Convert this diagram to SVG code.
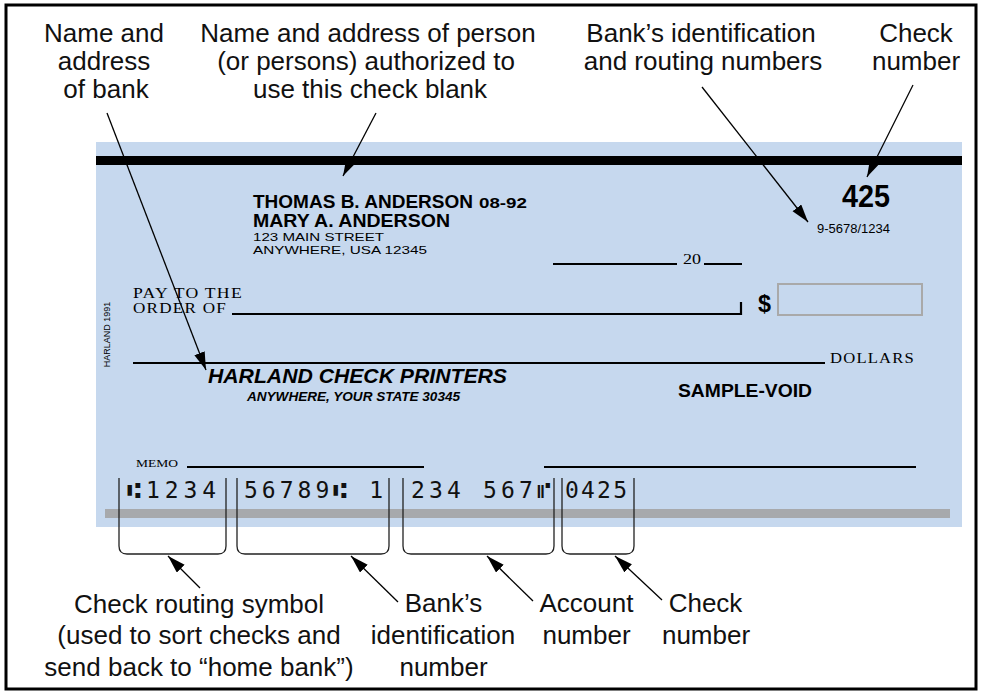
<svg xmlns="http://www.w3.org/2000/svg" width="982" height="694" viewBox="0 0 982 694">
<defs>
<marker id="ah" markerUnits="userSpaceOnUse" markerWidth="20" markerHeight="12" refX="18" refY="5.5" orient="auto">
<path d="M0,0 L18,5.5 L0,11 Z" fill="#000"/>
</marker>
</defs>
<style>
.lbl{font-family:"Liberation Sans",Arial,sans-serif;font-size:26px;fill:#111;text-anchor:middle}
.sans{font-family:"Liberation Sans",Arial,sans-serif;fill:#000}
.serif{font-family:"Liberation Serif","Times New Roman",serif;fill:#000}
.micr{font-family:"DejaVu Sans Mono","Liberation Mono",monospace;font-size:23px;fill:#111}
.rule{stroke:#000;stroke-width:2.2;fill:none}
.conn{stroke:#000;stroke-width:1.3;fill:none}
.brk{stroke:#222;stroke-width:1.3;fill:none}
</style>
<rect x="0" y="0" width="982" height="694" fill="#fff"/>
<rect x="6" y="5" width="970" height="684" fill="none" stroke="#000" stroke-width="3"/>

<g id="check">
<rect x="96" y="142" width="866" height="385" fill="#c6d8ee"/>
<rect x="96" y="156" width="866" height="9" fill="#000"/>
<rect x="105" y="509" width="845" height="9" fill="#a7a9ac"/>
<text class="sans" x="109.5" y="334.5" font-size="9" text-anchor="middle" transform="rotate(-90 109.5 334.5)">HARLAND 1991</text>
</g>

<g id="owner">
<text class="sans" x="253" y="208" font-size="18.5" font-weight="bold" textLength="220" lengthAdjust="spacingAndGlyphs">THOMAS B. ANDERSON</text>
<text class="sans" x="479" y="208" font-size="14" font-weight="bold" textLength="48" lengthAdjust="spacingAndGlyphs">08-92</text>
<text class="sans" x="253" y="227" font-size="18.5" font-weight="bold" textLength="197" lengthAdjust="spacingAndGlyphs">MARY A. ANDERSON</text>
<text class="sans" x="253" y="241" font-size="11.5" textLength="131" lengthAdjust="spacingAndGlyphs">123 MAIN STREET</text>
<text class="sans" x="253" y="254" font-size="11.5" textLength="174" lengthAdjust="spacingAndGlyphs">ANYWHERE, USA 12345</text>
</g>

<g id="checknum">
<text class="sans" x="842" y="207" font-size="32" font-weight="bold" textLength="48" lengthAdjust="spacingAndGlyphs">425</text>
</g>
<g id="routing">
<text class="sans" x="817" y="233" font-size="12.5" textLength="73" lengthAdjust="spacingAndGlyphs">9-5678/1234</text>
</g>

<g id="date">
<line class="rule" x1="553" y1="264" x2="677" y2="264"/>
<text class="serif" x="683" y="264" font-size="14" textLength="18" lengthAdjust="spacingAndGlyphs">20</text>
<line class="rule" x1="704" y1="264" x2="742" y2="264"/>
</g>

<g id="payee">
<text class="serif" x="133" y="298" font-size="14" letter-spacing="1" textLength="110" lengthAdjust="spacingAndGlyphs">PAY TO THE</text>
<text class="serif" x="133" y="313" font-size="14" letter-spacing="1" textLength="94" lengthAdjust="spacingAndGlyphs">ORDER OF</text>
<path class="rule" d="M232,314 H741 V302"/>
<text class="sans" x="758" y="312" font-size="24" font-weight="bold" textLength="13" lengthAdjust="spacingAndGlyphs">$</text>
<rect x="778" y="284" width="144" height="31" fill="none" stroke="#a9a9a9" stroke-width="2"/>
</g>

<g id="amount">
<line class="rule" x1="133" y1="363" x2="825" y2="363"/>
<text class="serif" x="830" y="363" font-size="14" letter-spacing="1" textLength="85" lengthAdjust="spacingAndGlyphs">DOLLARS</text>
</g>

<g id="bank">
<text class="sans" x="208" y="383" font-size="20" font-weight="bold" font-style="italic" textLength="299" lengthAdjust="spacingAndGlyphs">HARLAND CHECK PRINTERS</text>
<text class="sans" x="247" y="401" font-size="12.5" font-weight="bold" font-style="italic" textLength="213" lengthAdjust="spacingAndGlyphs">ANYWHERE, YOUR STATE 30345</text>
</g>

<g id="void">
<text class="sans" x="678" y="397" font-size="19" font-weight="bold" textLength="134" lengthAdjust="spacingAndGlyphs">SAMPLE-VOID</text>
</g>

<g id="memo">
<text class="serif" x="136" y="467" font-size="11" textLength="42" lengthAdjust="spacingAndGlyphs">MEMO</text>
<line class="rule" x1="187" y1="467" x2="424" y2="467"/>
<line class="rule" x1="544" y1="467" x2="916" y2="467"/>
</g>

<g id="micr">
<text class="micr" x="127" y="498" textLength="89" lengthAdjust="spacing">⑆1234</text>
<text class="micr" x="244" y="498" textLength="139" lengthAdjust="spacing">56789⑆ 1</text>
<text class="micr" x="411" y="498" textLength="140" lengthAdjust="spacing">234 567⑈</text>
<text class="micr" x="565" y="498" textLength="62" lengthAdjust="spacing">0425</text>
</g>

<g id="brackets">
<path class="brk" d="M119,478 V546 Q119,554 127,554 H218 Q226,554 226,546 V478"/>
<path class="brk" d="M237,478 V546 Q237,554 245,554 H381 Q389,554 389,546 V478"/>
<path class="brk" d="M403,478 V546 Q403,554 411,554 H546 Q554,554 554,546 V478"/>
<path class="brk" d="M562,478 V546 Q562,554 570,554 H626 Q634,554 634,546 V478"/>
</g>

<g id="labels-top">
<text class="lbl" x="104" y="42">Name and</text>
<text class="lbl" x="104" y="70">address</text>
<text class="lbl" x="106" y="98">of bank</text>
<text class="lbl" x="368" y="42">Name and address of person</text>
<text class="lbl" x="366" y="70">(or persons) authorized to</text>
<text class="lbl" x="370" y="98">use this check blank</text>
<text class="lbl" x="701" y="42">Bank’s identification</text>
<text class="lbl" x="703" y="70">and routing numbers</text>
<text class="lbl" x="916" y="42">Check</text>
<text class="lbl" x="916" y="70">number</text>
</g>

<g id="labels-bottom">
<text class="lbl" x="199" y="613">Check routing symbol</text>
<text class="lbl" x="199" y="644">(used to sort checks and</text>
<text class="lbl" x="199" y="676">send back to “home bank”)</text>
<text class="lbl" x="443.5" y="612">Bank’s</text>
<text class="lbl" x="443" y="644">identification</text>
<text class="lbl" x="443.5" y="676">number</text>
<text class="lbl" x="586.5" y="612">Account</text>
<text class="lbl" x="586.5" y="644">number</text>
<text class="lbl" x="705.5" y="612">Check</text>
<text class="lbl" x="706" y="644">number</text>
</g>

<g id="connectors">
<line class="conn" x1="107" y1="113" x2="206" y2="370" marker-end="url(#ah)"/>
<line class="conn" x1="376" y1="113" x2="343" y2="176" marker-end="url(#ah)"/>
<line class="conn" x1="702" y1="87" x2="808" y2="222" marker-end="url(#ah)"/>
<line class="conn" x1="913" y1="85" x2="867" y2="177" marker-end="url(#ah)"/>
<line class="conn" x1="200" y1="588" x2="168" y2="556" marker-end="url(#ah)"/>
<line class="conn" x1="398" y1="602" x2="351" y2="556" marker-end="url(#ah)"/>
<line class="conn" x1="533" y1="601" x2="487" y2="556" marker-end="url(#ah)"/>
<line class="conn" x1="662" y1="600" x2="615" y2="556" marker-end="url(#ah)"/>
</g>
</svg>
